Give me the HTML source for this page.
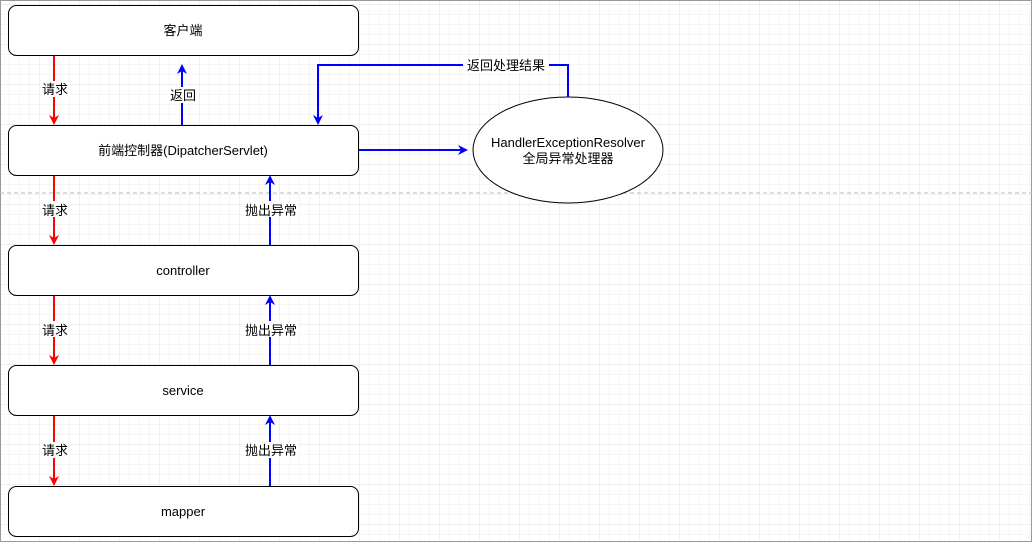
<!DOCTYPE html>
<html><head><meta charset="utf-8"><style>
body{margin:0;background:#fff}
svg text{font-family:"Liberation Sans","Noto Sans CJK SC",sans-serif;font-size:13px;fill:#000}
</style></head><body>
<svg width="1032" height="542" viewBox="0 0 1032 542" xmlns="http://www.w3.org/2000/svg">
<defs>
<pattern id="g" width="10" height="10" patternUnits="userSpaceOnUse" x="0" y="5"><path d="M10 0V10M0 10H10" stroke="#ececec" stroke-width="1" fill="none"/></pattern>
<pattern id="G" width="40" height="40" patternUnits="userSpaceOnUse" x="0" y="5"><path d="M40 0V40M0 40H40" stroke="#e0e0e0" stroke-width="1" fill="none"/></pattern>
<marker id="ar" markerWidth="10" markerHeight="10" refX="8" refY="5" orient="auto" markerUnits="userSpaceOnUse"><path d="M0 0L10 5L0 10L3 5Z" fill="#f00"/></marker>
<marker id="ab" markerWidth="10" markerHeight="10" refX="8" refY="5" orient="auto" markerUnits="userSpaceOnUse"><path d="M0 0L10 5L0 10L3 5Z" fill="#00f"/></marker>
</defs>
<rect width="1032" height="542" fill="url(#g)"/>
<rect width="1032" height="542" fill="url(#G)"/>
<rect x="0.5" y="0.5" width="1031" height="541" fill="none" stroke="#999"/>
<line x1="0" y1="193" x2="1032" y2="193" stroke="#bbb" stroke-dasharray="4,3"/>
<g fill="#fff" stroke="#000" stroke-width="1">
<rect x="8.5" y="5.5" width="350" height="50" rx="8"/>
<rect x="8.5" y="125.5" width="350" height="50" rx="8"/>
<rect x="8.5" y="245.5" width="350" height="50" rx="8"/>
<rect x="8.5" y="365.5" width="350" height="50" rx="8"/>
<rect x="8.5" y="486.5" width="350" height="50" rx="8"/>
<ellipse cx="568" cy="150" rx="95" ry="53"/>
</g>
<g text-anchor="middle">
<text x="183" y="35">客户端</text>
<text x="183" y="155">前端控制器(DipatcherServlet)</text>
<text x="183" y="275">controller</text>
<text x="183" y="395">service</text>
<text x="183" y="516">mapper</text>
<text x="568" y="147">HandlerExceptionResolver</text>
<text x="568" y="163">全局异常处理器</text>
</g>
<g stroke="#f00" stroke-width="2" fill="none" marker-end="url(#ar)">
<line x1="54" y1="56" x2="54" y2="123"/>
<line x1="54" y1="176" x2="54" y2="243"/>
<line x1="54" y1="296" x2="54" y2="363"/>
<line x1="54" y1="416" x2="54" y2="484"/>
</g>
<g stroke="#00f" stroke-width="2" fill="none" marker-end="url(#ab)">
<line x1="182" y1="125" x2="182" y2="66"/>
<line x1="270" y1="245" x2="270" y2="177"/>
<line x1="270" y1="365" x2="270" y2="297"/>
<line x1="270" y1="486" x2="270" y2="417"/>
<line x1="359" y1="150" x2="466" y2="150"/>
<polyline points="568,97 568,65 318,65 318,123"/>
</g>
<g text-anchor="middle">
<rect x="40" y="81" width="30" height="16" fill="#fff"/><text x="55" y="94">请求</text>
<rect x="40" y="201" width="30" height="16" fill="#fff"/><text x="55" y="215">请求</text>
<rect x="40" y="321" width="30" height="16" fill="#fff"/><text x="55" y="335">请求</text>
<rect x="40" y="442" width="30" height="16" fill="#fff"/><text x="55" y="455">请求</text>
<rect x="168" y="87" width="30" height="16" fill="#fff"/><text x="183" y="100">返回</text>
<rect x="243" y="201" width="56" height="16" fill="#fff"/><text x="271" y="215">抛出异常</text>
<rect x="243" y="321" width="56" height="16" fill="#fff"/><text x="271" y="335">抛出异常</text>
<rect x="243" y="442" width="56" height="16" fill="#fff"/><text x="271" y="455">抛出异常</text>
<rect x="463" y="57" width="86" height="16" fill="#fff"/><text x="506" y="70">返回处理结果</text>
</g>
</svg>
</body></html>
